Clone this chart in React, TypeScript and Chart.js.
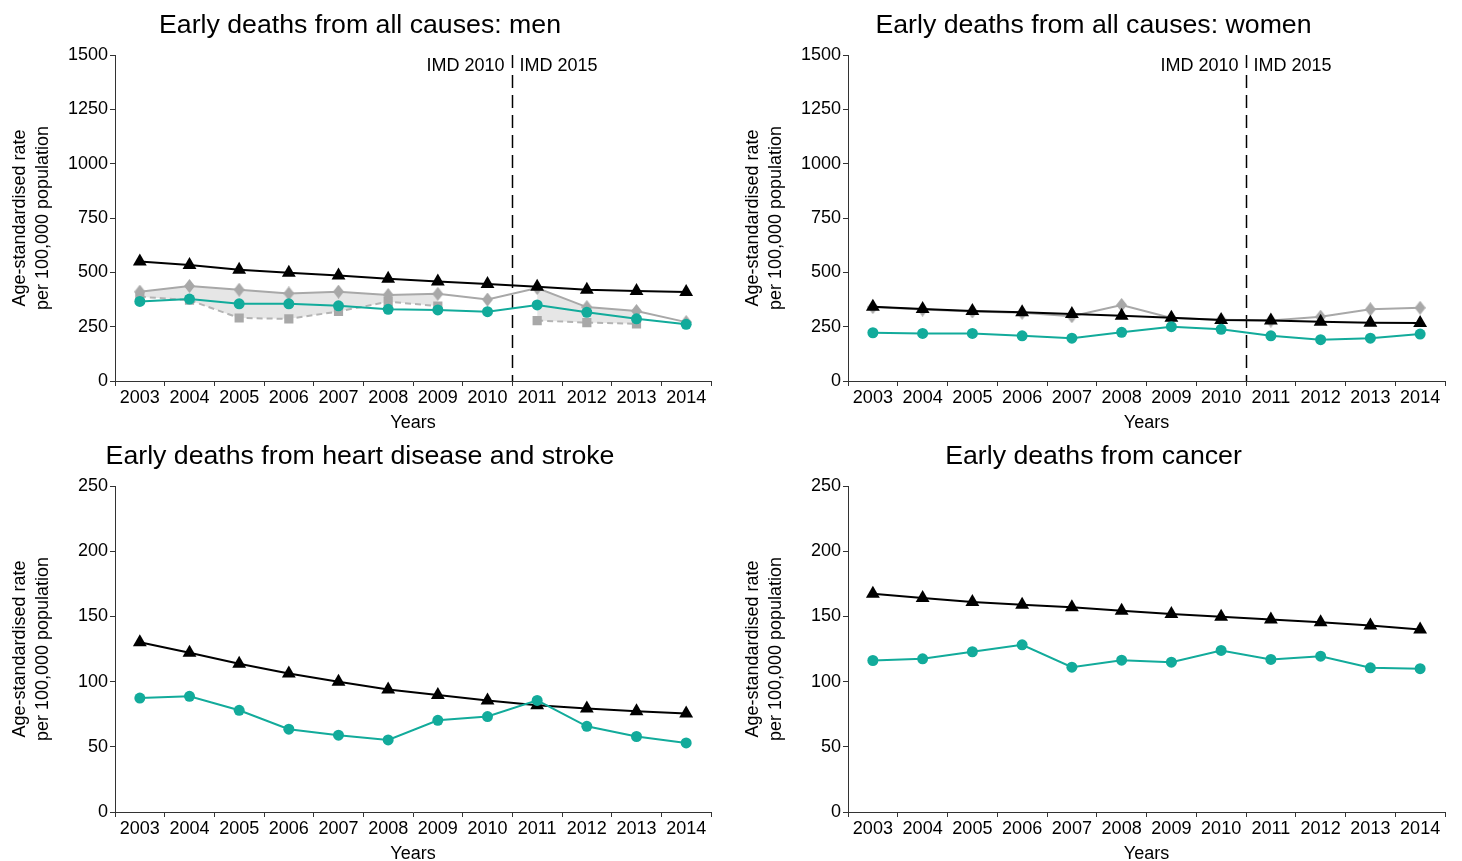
import React, { useEffect, useRef } from "react";
import { Chart, registerables } from "chart.js";

Chart.register(...registerables);

// ---------------- data ----------------
const years = ["2003", "2004", "2005", "2006", "2007", "2008", "2009", "2010", "2011", "2012", "2013", "2014"];

const menEngland = [550, 534, 512, 498, 485, 470, 458, 446, 434, 420, 414, 410];
const menLocal = [366, 377, 355, 355, 346, 330, 327, 319, 350, 316, 286, 261];
const menUpper = [411, 437, 420, 403, 411, 396, 401, 375, 428, 340, 322, 271];
const menLower = [388, 372, 290, 286, 320, 365, 345, null, 278, 269, 263, null];

const womenEngland = [342, 331, 322, 316, 308, 300, 291, 281, 278, 273, 268, 267];
const womenLocal = [222, 219, 219, 208, 197, 224, 250, 238, 208, 190, 197, 216];
const womenUpper = [340, 329, 320, 314, 298, 350, 290, 282, 278, 296, 330, 337];

const heartEngland = [130.2, 122.1, 113.7, 106.3, 99.9, 94.0, 89.7, 85.6, 81.8, 79.3, 77.2, 75.5];
const heartLocal = [87.4, 88.7, 78.0, 63.5, 58.9, 55.3, 70.3, 73.2, 85.6, 65.7, 57.9, 53.0];

const cancerEngland = [167.4, 164.1, 161.0, 159.0, 157.0, 154.4, 151.9, 149.8, 147.6, 145.5, 143.0, 139.9];
const cancerLocal = [116.2, 117.5, 122.9, 128.2, 111.1, 116.4, 114.9, 123.9, 117.0, 119.5, 110.6, 109.9];

const titleMen = "Early deaths from all causes: men";
const titleWomen = "Early deaths from all causes: women";
const titleHeart = "Early deaths from heart disease and stroke";
const titleCancer = "Early deaths from cancer";
const yTitle = ["Age-standardised rate", "per 100,000 population"];
const xTitle = "Years";
const imdLeft = "IMD 2010";
const imdRight = "IMD 2015";
const imdBoundary = 7; // boundary after 2010

// ---------------- styles ----------------
const FONT = '"Liberation Sans", Arial, Helvetica, sans-serif';
const BLACK = "#000000";
const TEAL = "#12ab9b";
const GREY = "#a8a8a8";
const GREY_FILL = "#e6e6e6";
const AXIS = "#333333";
const H = 434;

Chart.defaults.font.family = FONT;
Chart.defaults.color = "#000";

function makeDiamond(): HTMLCanvasElement {
  const c = document.createElement("canvas");
  c.width = 11;
  c.height = 14;
  const g = c.getContext("2d") as CanvasRenderingContext2D;
  g.fillStyle = GREY;
  g.beginPath();
  g.moveTo(5.5, 0);
  g.lineTo(11, 7);
  g.lineTo(5.5, 14);
  g.lineTo(0, 7);
  g.closePath();
  g.fill();
  return c;
}
const diamond = makeDiamond();

const imdPlugin = {
  id: "imdLine",
  beforeDatasetsDraw(chart: any) {
    const { ctx, chartArea, scales } = chart;
    const x = scales.x;
    const xp = Math.round((x.getPixelForValue(imdBoundary) + x.getPixelForValue(imdBoundary + 1)) / 2) + 0.5;
    ctx.save();
    ctx.strokeStyle = "#000";
    ctx.lineWidth = 1.5;
    ctx.setLineDash([13, 7]);
    ctx.beginPath();
    ctx.moveTo(xp, chartArea.top);
    ctx.lineTo(xp, chartArea.bottom);
    ctx.stroke();
    ctx.setLineDash([]);
    ctx.font = `18px ${FONT}`;
    ctx.fillStyle = "#000";
    ctx.textBaseline = "middle";
    ctx.textAlign = "right";
    ctx.fillText(imdLeft, xp - 8, chartArea.top + 11);
    ctx.textAlign = "left";
    ctx.fillText(imdRight, xp + 7, chartArea.top + 11);
    ctx.restore();
  },
};

function englandSet(data: number[]) {
  return {
    data,
    borderColor: BLACK,
    backgroundColor: BLACK,
    borderWidth: 2,
    pointStyle: "triangle",
    pointRadius: 8,
    pointBorderWidth: 0,
    pointBackgroundColor: BLACK,
    fill: false,
  };
}
function localSet(data: number[]) {
  return {
    data,
    borderColor: TEAL,
    backgroundColor: TEAL,
    borderWidth: 2,
    pointStyle: "circle",
    pointRadius: 5.5,
    pointBorderWidth: 0,
    pointBackgroundColor: TEAL,
    fill: false,
  };
}
function upperSet(data: number[]) {
  return {
    data,
    borderColor: GREY,
    backgroundColor: GREY,
    borderWidth: 2,
    pointStyle: diamond,
    pointRadius: 6,
    pointBorderWidth: 0,
    pointBackgroundColor: GREY,
    fill: false,
  };
}
function lowerSet(data: (number | null)[]) {
  return {
    data,
    borderColor: "#b4b4b4",
    backgroundColor: GREY_FILL,
    borderWidth: 2,
    borderDash: [6, 4],
    pointStyle: "rect",
    pointRadius: 6.5,
    pointBorderWidth: 0,
    pointBackgroundColor: GREY,
    spanGaps: false,
    fill: { target: 2 },
  };
}

function makeConfig(title: string, datasets: any[], yMax: number, yStep: number, padRight: number, imd: boolean) {
  return {
    type: "line",
    data: { labels: years, datasets },
    plugins: imd ? [imdPlugin] : [],
    options: {
      responsive: false,
      maintainAspectRatio: false,
      animation: false,
      devicePixelRatio: 1,
      layout: { padding: { left: 9, right: padRight, top: 0, bottom: 0 } },
      plugins: {
        legend: { display: false },
        tooltip: { enabled: false },
        title: {
          display: true,
          text: title,
          color: "#000",
          font: { size: 26.7, weight: "normal", lineHeight: 1.2 },
          padding: { top: 10, bottom: 13 },
        },
        filler: { propagate: false },
      },
      scales: {
        x: {
          type: "category",
          offset: true,
          afterFit: (s: any) => {
            s.height = H - 381;
          },
          grid: { offset: true, drawOnChartArea: false, drawTicks: true, tickLength: 5, color: AXIS, lineWidth: 1 },
          border: { display: true, color: AXIS, width: 1 },
          ticks: { color: "#000", font: { size: 18, lineHeight: 1.2 }, padding: 1, maxRotation: 0, autoSkip: false },
          title: { display: true, text: xTitle, color: "#000", font: { size: 18, lineHeight: 1.2 }, padding: { top: 0, bottom: 0 } },
        },
        y: {
          min: 0,
          max: yMax,
          afterFit: (s: any) => {
            s.width = 106;
          },
          grid: { drawOnChartArea: false, drawTicks: true, tickLength: 5, color: AXIS, lineWidth: 1 },
          border: { display: true, color: AXIS, width: 1 },
          ticks: {
            stepSize: yStep,
            color: "#000",
            font: { size: 18, lineHeight: 1.2 },
            padding: 2,
            callback: (v: any) => String(v),
          },
          title: { display: true, text: yTitle, color: "#000", font: { size: 18, lineHeight: 23 / 18 }, padding: { top: 0, bottom: 0 } },
        },
      },
    },
  };
}

function Panel({ config, left, top, width }: { config: any; left: number; top: number; width: number }) {
  const ref = useRef<HTMLCanvasElement>(null);
  useEffect(() => {
    const chart = new Chart(ref.current as HTMLCanvasElement, config);
    return () => chart.destroy();
  }, []);
  return (
    <canvas
      ref={ref}
      width={width}
      height={H}
      style={{ position: "absolute", left, top, width, height: H, display: "block" }}
    />
  );
}

export default function App() {
  // order: local (drawn on top), England, upper grey, lower grey dashed
  const men = makeConfig(titleMen, [localSet(menLocal), englandSet(menEngland), upperSet(menUpper), lowerSet(menLower)], 1500, 250, 20, true);
  const women = makeConfig(titleWomen, [localSet(womenLocal), englandSet(womenEngland), upperSet(womenUpper)], 1500, 250, 17, true);
  const heart = makeConfig(titleHeart, [localSet(heartLocal), englandSet(heartEngland)], 250, 50, 20, false);
  const cancer = makeConfig(titleCancer, [localSet(cancerLocal), englandSet(cancerEngland)], 250, 50, 17, false);
  return (
    <div style={{ position: "absolute", left: 0, top: 0, width: 1462, height: 861, overflow: "hidden", background: "#fff" }}>
      <Panel config={men} left={0} top={0} width={731} />
      <Panel config={women} left={733} top={0} width={729} />
      <Panel config={heart} left={0} top={431} width={731} />
      <Panel config={cancer} left={733} top={431} width={729} />
    </div>
  );
}
